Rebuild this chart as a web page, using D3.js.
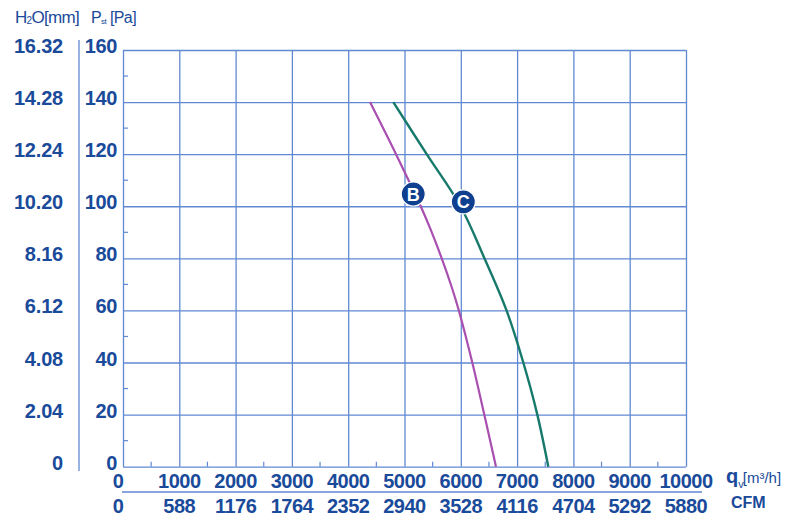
<!DOCTYPE html>
<html>
<head>
<meta charset="utf-8">
<script src="https://cdn.jsdelivr.net/npm/d3@7/dist/d3.min.js"></script>
<style>
  html, body { margin: 0; padding: 0; background: #ffffff; }
  svg { display: block; }
  text { font-family: "Liberation Sans", Arial, Helvetica, sans-serif; }
</style>
</head>
<body>
<svg id="chart" width="800" height="519"></svg>
<script>
// ---- data ----
const flowTicks = [0, 1000, 2000, 3000, 4000, 5000, 6000, 7000, 8000, 9000, 10000];
const flowLabels = ["0", "1000", "2000", "3000", "4000", "5000", "6000", "7000", "8000", "9000", "10000"];
const cfmLabels = ["0", "588", "1176", "1764", "2352", "2940", "3528", "4116", "4704", "5292", "5880"];
const paTicks = [0, 20, 40, 60, 80, 100, 120, 140, 160];
const h2oLabels = ["0", "2.04", "4.08", "6.12", "8.16", "10.20", "12.24", "14.28", "16.32"];
const flowMinor = [500, 1500, 2500, 3500, 4500, 5500, 6500, 7500, 8500, 9500];
const paMinor = [10, 30, 50, 70, 90, 110, 130, 150];

const curveBFlow = [4387, 4849, 5288, 5465, 5661, 5838, 5965, 6204, 6417, 6625];
const curveBPa   = [140, 120, 100, 91, 80, 69, 60, 40, 20, 0];
const curveCFlow = [4801, 5394, 5995, 6420, 6812, 7110, 7359, 7554];
const curveCPa   = [140, 120, 100, 80, 60, 40, 20, 0];

const markerNames = ["B", "C"];
const markerFlow = [5155, 6045];
const markerPa = [104.7, 101.7];

// ---- styles ----
const textColor = "#1a4a9a";
const gridColor = "#6189d2";
const colorB = "#a84fb0";
const colorC = "#17796b";
const markerFill = "#0f3f8f";

const svg = d3.select("#chart");
const x = d3.scaleLinear().domain([0, 10000]).range([123, 686]);
const y = d3.scaleLinear().domain([0, 160]).range([466.7, 50]);

// grid (vertical)
svg.append("g")
  .attr("transform", `translate(0,${y(0)})`)
  .call(d3.axisBottom(x).tickValues(flowTicks).tickSize(-(y(0) - y(160))).tickFormat(""))
  .call(g => g.select(".domain").remove())
  .call(g => g.selectAll(".tick line").attr("stroke", gridColor).attr("stroke-width", 1.3));

// grid (horizontal)
svg.append("g")
  .attr("transform", `translate(${x(0)},0)`)
  .call(d3.axisLeft(y).tickValues(paTicks).tickSize(-(x(10000) - x(0))).tickFormat(""))
  .call(g => g.select(".domain").remove())
  .call(g => g.selectAll(".tick line").attr("stroke", gridColor).attr("stroke-width", 1.3));

// minor ticks
svg.append("g").selectAll("line").data(flowMinor).join("line")
  .attr("x1", d => x(d)).attr("x2", d => x(d))
  .attr("y1", y(0)).attr("y2", y(0) - 5)
  .attr("stroke", gridColor).attr("stroke-width", 1.2);
svg.append("g").selectAll("line").data(paMinor).join("line")
  .attr("x1", x(0)).attr("x2", x(0) + 5)
  .attr("y1", d => y(d)).attr("y2", d => y(d))
  .attr("stroke", gridColor).attr("stroke-width", 1.2);

// separators
svg.append("line").attr("x1", 122).attr("x2", 702).attr("y1", 492).attr("y2", 492)
  .attr("stroke", gridColor).attr("stroke-width", 1.3);
svg.append("line").attr("x1", 79).attr("x2", 79).attr("y1", 40).attr("y2", 471)
  .attr("stroke", gridColor).attr("stroke-width", 1.3);

// y labels (Pa)
svg.append("g").selectAll("text").data(paTicks).join("text")
  .attr("x", 117).attr("y", d => y(d) + 3)
  .attr("text-anchor", "end")
  .attr("font-size", 20).attr("font-weight", "bold").attr("letter-spacing", -0.4)
  .attr("fill", textColor)
  .text(d => String(d));

// y labels (H2O)
svg.append("g").selectAll("text").data(paTicks).join("text")
  .attr("x", 63).attr("y", d => y(d) + 3)
  .attr("text-anchor", "end")
  .attr("font-size", 20).attr("font-weight", "bold").attr("letter-spacing", -0.2)
  .attr("fill", textColor)
  .text((d, i) => h2oLabels[i]);

// x labels (m3/h)
svg.append("g").selectAll("text").data(flowTicks).join("text")
  .attr("x", (d, i) => i === 0 ? x(d) - 5 : x(d))
  .attr("y", 488)
  .attr("text-anchor", "middle")
  .attr("font-size", 20).attr("font-weight", "bold").attr("letter-spacing", -0.5)
  .attr("fill", textColor)
  .text((d, i) => flowLabels[i]);

// x labels (CFM)
svg.append("g").selectAll("text").data(flowTicks).join("text")
  .attr("x", (d, i) => i === 0 ? x(d) - 5 : x(d))
  .attr("y", 513)
  .attr("text-anchor", "middle")
  .attr("font-size", 20).attr("font-weight", "bold").attr("letter-spacing", -0.5)
  .attr("fill", textColor)
  .text((d, i) => cfmLabels[i]);

// headers
const h1 = svg.append("text").attr("x", 15).attr("y", 23)
  .attr("font-size", 17).attr("fill", textColor).attr("letter-spacing", -0.7);
h1.append("tspan").text("H");
h1.append("tspan").attr("font-size", 10).attr("dy", 1).text("2");
h1.append("tspan").attr("dy", -1).text("O[mm]");

const h2 = svg.append("text").attr("x", 91).attr("y", 23)
  .attr("font-size", 16).attr("fill", textColor).attr("letter-spacing", -0.6);
h2.append("tspan").text("P");
h2.append("tspan").attr("font-size", 8).attr("dy", 1).text("st");
h2.append("tspan").attr("dy", -1).text(" [Pa]");

const q = svg.append("text").attr("x", 726).attr("y", 483)
  .attr("fill", textColor);
q.append("tspan").attr("font-size", 20).attr("font-weight", "bold").text("q");
q.append("tspan").attr("font-size", 11).attr("dy", 5).text("v");
q.append("tspan").attr("font-size", 15).attr("dy", -5).attr("dx", -1).text("[m³/h]");

svg.append("text").attr("x", 731).attr("y", 508)
  .attr("font-size", 16).attr("font-weight", "bold").attr("fill", textColor)
  .text("CFM");

// curves
const line = d3.line().x(d => x(d[0])).y(d => y(d[1])).curve(d3.curveCatmullRom.alpha(0.5));
const dataB = curveBFlow.map((v, i) => [v, curveBPa[i]]);
const dataC = curveCFlow.map((v, i) => [v, curveCPa[i]]);
svg.append("path").datum(dataB).attr("d", line)
  .attr("fill", "none").attr("stroke", colorB).attr("stroke-width", 2.2);
svg.append("path").datum(dataC).attr("d", line)
  .attr("fill", "none").attr("stroke", colorC).attr("stroke-width", 2.4);

// markers
const mk = svg.append("g").selectAll("g").data(markerNames).join("g")
  .attr("transform", (d, i) => `translate(${x(markerFlow[i])},${y(markerPa[i])})`);
mk.append("circle").attr("r", 12).attr("fill", markerFill)
  .attr("stroke", "#ffffff").attr("stroke-width", 1.2);
mk.append("text").attr("text-anchor", "middle").attr("y", 6.5)
  .attr("font-size", 18).attr("font-weight", "bold").attr("fill", "#ffffff")
  .text(d => d);
</script>
</body>
</html>
